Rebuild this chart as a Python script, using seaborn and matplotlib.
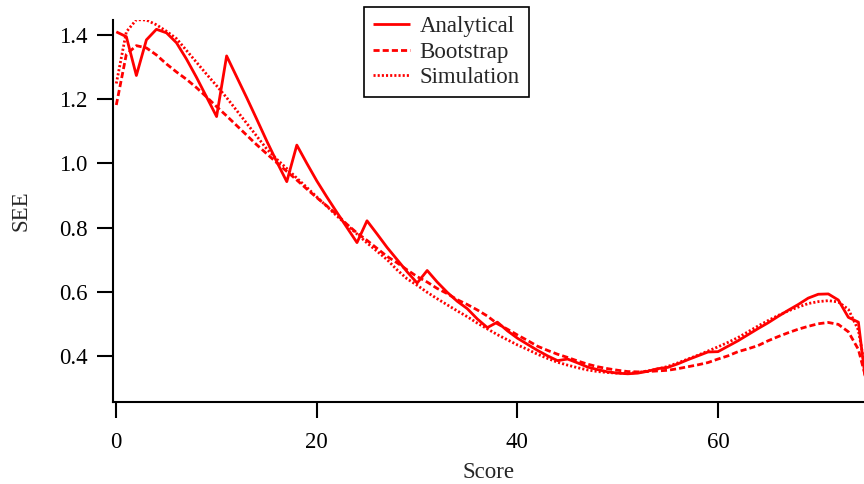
import numpy as np
import pandas as pd
import matplotlib
matplotlib.use("Agg")
import matplotlib.pyplot as plt
import seaborn as sns

# score points 0..75
scores = list(range(76))

analytical = [
    1.410, 1.395, 1.274, 1.385, 1.418, 1.407, 1.376, 1.325, 1.268, 1.207,
    1.146, 1.335, 1.270, 1.205, 1.138, 1.070, 1.005, 0.943, 1.057, 1.000,
    0.945, 0.895, 0.847, 0.800, 0.753, 0.821, 0.780, 0.738, 0.700, 0.662,
    0.627, 0.666, 0.630, 0.598, 0.570, 0.547, 0.515, 0.488, 0.505, 0.478,
    0.455, 0.436, 0.417, 0.400, 0.385, 0.390, 0.378, 0.365, 0.357, 0.350,
    0.346, 0.344, 0.346, 0.352, 0.360, 0.364, 0.375, 0.388, 0.400, 0.412,
    0.413, 0.430, 0.447, 0.466, 0.485, 0.503, 0.523, 0.542, 0.560, 0.580,
    0.592, 0.593, 0.574, 0.520, 0.505, 0.250,
]

bootstrap = [
    1.182, 1.340, 1.367, 1.360, 1.338, 1.310, 1.285, 1.262, 1.236, 1.207,
    1.177, 1.148, 1.118, 1.088, 1.058, 1.030, 1.002, 0.975, 0.948, 0.920,
    0.893, 0.867, 0.840, 0.810, 0.783, 0.760, 0.735, 0.710, 0.690, 0.668,
    0.647, 0.630, 0.610, 0.594, 0.575, 0.560, 0.543, 0.524, 0.500, 0.483,
    0.465, 0.448, 0.430, 0.417, 0.405, 0.395, 0.384, 0.374, 0.366, 0.360,
    0.355, 0.351, 0.350, 0.351, 0.353, 0.355, 0.360, 0.366, 0.372, 0.379,
    0.390, 0.400, 0.413, 0.422, 0.432, 0.447, 0.460, 0.472, 0.483, 0.492,
    0.500, 0.504, 0.498, 0.475, 0.420, 0.300,
]

simulation = [
    1.249, 1.410, 1.448, 1.447, 1.432, 1.412, 1.389, 1.352, 1.315, 1.278,
    1.242, 1.205, 1.165, 1.125, 1.085, 1.045, 1.013, 0.984, 0.954, 0.925,
    0.895, 0.866, 0.836, 0.808, 0.780, 0.752, 0.726, 0.700, 0.668, 0.640,
    0.620, 0.598, 0.578, 0.559, 0.540, 0.522, 0.502, 0.484, 0.466, 0.450,
    0.434, 0.420, 0.405, 0.392, 0.380, 0.371, 0.363, 0.356, 0.351, 0.348,
    0.346, 0.346, 0.348, 0.353, 0.359, 0.367, 0.378, 0.390, 0.402, 0.415,
    0.428, 0.442, 0.457, 0.475, 0.493, 0.510, 0.526, 0.540, 0.552, 0.563,
    0.569, 0.572, 0.568, 0.545, 0.480, 0.300,
]

series_names = ["Analytical", "Bootstrap", "Simulation"]
series_styles = [(0, ()), (0, (2.2, 1.1)), (0, (0.75, 0.75))]

df = pd.DataFrame({"Score": scores, "Analytical": analytical,
                   "Bootstrap": bootstrap, "Simulation": simulation})

sns.set_style("ticks")
plt.rcParams['font.family'] = ['Liberation Serif', 'DejaVu Serif']
plt.rcParams['font.size'] = 16.5

fig = plt.figure(figsize=(8.64, 4.84), dpi=100)
W, H = 864, 484
ax = fig.add_axes([112.7 / W, (H - 401.7) / H, (W - 112.7) / W, (401.7 - 20) / H])

for name, ls in zip(series_names, series_styles):
    sns.lineplot(data=df, x="Score", y=name, ax=ax, color="#ff0000",
                 linewidth=2.0, linestyle=ls, label=name)

ax.set_xlim(-0.36, 74.56)
ax.set_ylim(0.257, 1.447)
ax.set_xticks([0, 20, 40, 60])
ax.set_yticks([0.4, 0.6, 0.8, 1.0, 1.2, 1.4])
ax.set_yticklabels(["0.4", "0.6", "0.8", "1.0", "1.2", "1.4"])

for side in ["top", "right"]:
    ax.spines[side].set_visible(False)
for side in ["left", "bottom"]:
    ax.spines[side].set_color("black")
    ax.spines[side].set_linewidth(1.5)

ax.tick_params(axis="both", direction="out", length=11.5, width=1.5,
               colors="black", labelsize=16.5, bottom=True, left=True)
ax.tick_params(axis="x", pad=10.5)
ax.tick_params(axis="y", pad=6.5)

ax.set_xlabel("Score", fontsize=16.5)
ax.set_ylabel("SEE", fontsize=16.5)
ax.xaxis.set_label_coords(0.5, -0.158)
ax.yaxis.set_label_coords(-0.1075, 0.5)

leg = ax.legend(loc="upper left", bbox_to_anchor=(364.3 / W, 1 - 7.3 / H),
                bbox_transform=fig.transFigure, fontsize=16.5, frameon=True,
                fancybox=False, shadow=False, handlelength=1.6,
                handletextpad=0.44, labelspacing=0.2, borderpad=0.38,
                borderaxespad=0)
leg.get_frame().set_edgecolor("black")
leg.get_frame().set_linewidth(1.2)
leg.get_frame().set_alpha(1)

fig.savefig("out.png", dpi=100)
